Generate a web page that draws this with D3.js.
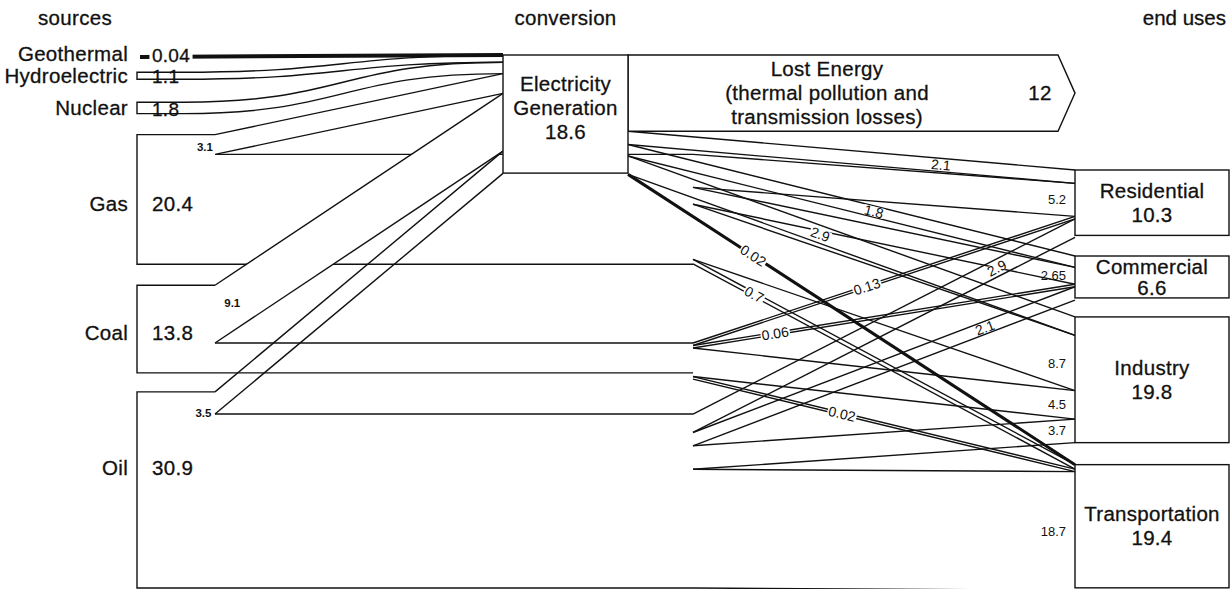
<!DOCTYPE html>
<html>
<head>
<meta charset="utf-8">
<script src="https://cdn.jsdelivr.net/npm/d3@7"></script>
<style>
body { margin: 0; background: #fff; }
svg { display: block; font-family: "Liberation Sans", Arial, Helvetica, sans-serif; }
.edge { fill: none; stroke: #111; stroke-width: 1.4; }
.box { fill: #fff; stroke: #111; stroke-width: 1.4; }
.big { font-size: 20.5px; fill: #111; stroke: #111; stroke-width: 0.3; letter-spacing: 0.3px; }
</style>
</head>
<body>
<svg id="chart" width="1231" height="589"></svg>
<script>
// values
var stages = ["sources", "conversion", "end uses"];
var sources = ["Geothermal", "Hydroelectric", "Nuclear", "Gas", "Coal", "Oil"];
var sourceTotals = [0.04, 1.1, 1.8, 20.4, 13.8, 30.9];
var toElectricity = [0.04, 1.1, 1.8, 3.1, 9.1, 3.5];
var electricityTotal = 18.6;
var lostEnergy = 12;
var endUses = ["Residential", "Commercial", "Industry", "Transportation"];
var endUseTotals = [10.3, 6.6, 19.8, 19.4];
var fromElectricity = [2.1, 1.8, 2.9, 0.02];
var fromGas = [5.2, 2.65, 8.7, 0.7];
var fromCoal = [0.13, 0.06, 4.5, 0.02];
var fromOil = [2.9, 2.1, 3.7, 18.7];

/* layout */
var X = {srcLeft: 137, srcSmall: 183, srcSplit: 215, elecLeft: 503, elecRight: 628,
         hub: 693, useLeft: 1075, useRight: 1229, notch: 1058};
var srcTop = 57, srcGaps = [15, 23, 21, 21, 19];
var useTop = 170, useGaps = [20.6, 19, 22];
var elecTop = 55;
var minW = 2.5;

// value -> band thickness
var k = d3.scaleLinear().domain([0, 1]).range([0, 6.35]);

// label placement for each flow
var heavy = {"Geothermal>Electricity": 4, "Electricity>Transportation": 3};
var labelAt = {
  "Gas>Electricity": {mode: "at", t: -0.035},
  "Coal>Electricity": {mode: "at", t: 0.06},
  "Oil>Electricity": {mode: "at", t: -0.04},
  "Electricity>Residential": {mode: "along", t: 0.70},
  "Electricity>Commercial": {mode: "along", t: 0.55},
  "Electricity>Industry": {mode: "along", t: 0.43},
  "Electricity>Transportation": {mode: "along", t: 0.28},
  "Gas>Residential": {mode: "end"},
  "Gas>Commercial": {mode: "end"},
  "Gas>Industry": {mode: "end"},
  "Gas>Transportation": {mode: "along", t: 0.16},
  "Coal>Residential": {mode: "along", t: 0.455},
  "Coal>Commercial": {mode: "along", t: 0.215},
  "Coal>Industry": {mode: "end"},
  "Coal>Transportation": {mode: "along", t: 0.39},
  "Oil>Residential": {mode: "along", t: 0.795},
  "Oil>Commercial": {mode: "along", t: 0.764},
  "Oil>Industry": {mode: "end"},
  "Oil>Transportation": {mode: "end"}
};

var svg = d3.select("#chart");

/* node positions */
var srcPos = [], acc = srcTop;
sourceTotals.forEach(function(v, i) {
  srcPos.push({y0: acc, y1: acc + k(v)});
  acc += k(v) + (srcGaps[i] || 0);
});
var usePos = [];
acc = useTop;
endUseTotals.forEach(function(v, j) {
  usePos.push({y0: acc, y1: acc + k(v)});
  acc += k(v) + (useGaps[j] || 0);
});
var elecBottom = elecTop + k(electricityTotal);
var lostBottom = elecTop + k(lostEnergy);

function bandW(key, v) {
  if (heavy[key]) return 0;
  return Math.max(k(v), minW);
}

/* flows into electricity */
var flows = [];
var inAcc = elecTop;
sources.forEach(function(name, i) {
  var v = toElectricity[i];
  var key = name + ">Electricity";
  var x0 = i === 0 ? X.srcLeft + 3 : (i < 3 ? X.srcSmall : X.srcSplit);
  var w = heavy[key] ? 0 : k(v);
  var s0 = srcPos[i].y0;
  flows.push({key: key, value: v, x0: x0, x1: X.elecLeft, s0: s0, s1: s0 + w,
              t0: inAcc, t1: inAcc + w, curved: i === 1 || i === 2, fill: i === 3 || i === 4});
  inAcc += k(v);
});

/* flows to end uses */
var rows = [
  {name: "Electricity", values: fromElectricity, x0: X.elecRight, top: lostBottom},
  {name: "Gas", values: fromGas, x0: X.hub, top: srcPos[3].y0 + k(toElectricity[3])},
  {name: "Coal", values: fromCoal, x0: X.hub, top: srcPos[4].y0 + k(toElectricity[4])},
  {name: "Oil", values: fromOil, x0: X.hub, top: srcPos[5].y0 + k(toElectricity[5])}
];
var useAcc = usePos.map(function(p) { return p.y0; });
rows.forEach(function(r) {
  var a = r.top;
  r.values.forEach(function(v, j) {
    var key = r.name + ">" + endUses[j];
    var w = bandW(key, v);
    flows.push({key: key, value: v, x0: r.x0, x1: X.useLeft, s0: a, s1: a + w,
                t0: useAcc[j], t1: useAcc[j] + w});
    a += w;
    useAcc[j] += w;
  });
});

var line = d3.line();
var link = d3.linkHorizontal();

function edgePath(f, top) {
  var a = [f.x0, top ? f.s0 : f.s1], b = [f.x1, top ? f.t0 : f.t1];
  return f.curved ? link({source: a, target: b}) : line([a, b]);
}

/* bulk of gas, coal, oil running to the hub */
var gBulk = svg.append("g");
[3, 4, 5].forEach(function(i) {
  var top = srcPos[i].y0 + k(toElectricity[i]);
  gBulk.append("path").attr("class", "edge").attr("d", line([[X.srcSplit, top], [X.hub, top]]));
  gBulk.append("path").attr("class", "edge").attr("d", line([[X.srcSplit, srcPos[i].y1], [X.hub, srcPos[i].y1]]));
});

/* flow bands */
var gFlows = svg.append("g");
flows.forEach(function(f) {
  var g = gFlows.append("g");
  if (heavy[f.key]) {
    g.append("path").attr("d", line([[f.x0, f.s0], [f.x1, f.t0]]))
      .attr("fill", "none").attr("stroke", "#111").attr("stroke-width", heavy[f.key]);
    return;
  }
  if (f.fill) {
    g.append("path").attr("d", line([[f.x0, f.s0], [f.x1, f.t0], [f.x1, f.t1], [f.x0, f.s1]]) + "Z")
      .attr("fill", "#fff").attr("stroke", "none");
  }
  g.append("path").attr("class", "edge").attr("d", edgePath(f, true));
  g.append("path").attr("class", "edge").attr("d", edgePath(f, false));
});

/* source outlines */
sources.forEach(function(name, i) {
  if (i === 0) return;
  var sx = i < 3 ? X.srcSmall : X.srcSplit;
  var p = d3.path();
  p.moveTo(sx, srcPos[i].y0);
  p.lineTo(X.srcLeft, srcPos[i].y0);
  p.lineTo(X.srcLeft, srcPos[i].y1);
  p.lineTo(sx, srcPos[i].y1);
  svg.append("path").attr("class", "edge").attr("d", p.toString());
});

/* lost energy arrow */
var midLost = (elecTop + lostBottom) / 2;
svg.append("path").attr("class", "box")
  .attr("d", line([[X.elecRight, elecTop], [X.notch, elecTop], [X.useLeft, midLost],
                   [X.notch, lostBottom], [X.elecRight, lostBottom]]) + "Z");

/* electricity generation box */
svg.append("rect").attr("class", "box")
  .attr("x", X.elecLeft).attr("y", elecTop)
  .attr("width", X.elecRight - X.elecLeft).attr("height", elecBottom - elecTop);

/* end use boxes */
endUses.forEach(function(name, j) {
  svg.append("rect").attr("class", "box")
    .attr("x", X.useLeft).attr("y", usePos[j].y0)
    .attr("width", X.useRight - X.useLeft).attr("height", usePos[j].y1 - usePos[j].y0);
});

/* text helpers */
function txt(x, y, s, cls, anchor) {
  var t = svg.append("text").attr("x", x).attr("y", y).attr("dy", "0.35em")
    .attr("text-anchor", anchor || "middle").text(s);
  if (cls) t.attr("class", cls);
  return t;
}
function backed(parent, s, size, cls) {
  var g = parent.append("g");
  var r = g.append("rect").attr("fill", "#fff");
  var t = g.append("text").attr("text-anchor", "middle").attr("dy", "0.35em")
    .attr("font-size", size).attr("fill", "#111").text(s);
  if (cls) t.attr("class", cls);
  var b = t.node().getBBox();
  r.attr("x", b.x - 1).attr("y", b.y + 3).attr("width", b.width + 2).attr("height", b.height - 6);
  return g;
}

/* stage headers */
txt(75, 18, stages[0], "big");
txt((X.elecLeft + X.elecRight) / 2, 18, stages[1], "big");
txt(1226, 18, stages[2], "big", "end").style("letter-spacing", "0px");

/* source names and values */
sources.forEach(function(name, i) {
  var h = srcPos[i].y1 - srcPos[i].y0;
  var small = h < 20;
  var y = small ? srcPos[i].y0 + h / 2 - (i === 0 ? 3 : 0) : srcPos[i].y0 + Math.min(h / 2 + 4, 76);
  txt(128, y, name, "big", "end");
  if (i === 0) {
    backed(svg, String(sourceTotals[i]), 19, "big")
      .attr("transform", "translate(171," + (y + 1) + ")")
      .select("text").style("font-size", "19px");
  } else {
    var t = txt(152, y + (small ? 1 : 0), String(sourceTotals[i]), "big", "start");
    if (small) t.style("font-size", "19px");
  }
});

/* electricity text */
var ecx = (X.elecLeft + X.elecRight) / 2, ecy = (elecTop + elecBottom) / 2 - 6;
txt(ecx, ecy - 24, "Electricity", "big");
txt(ecx, ecy, "Generation", "big");
txt(ecx, ecy + 24, String(electricityTotal), "big");

/* lost energy text */
txt(X.elecRight + 199, midLost - 24, "Lost Energy", "big");
txt(X.elecRight + 199, midLost, "(thermal pollution and", "big");
txt(X.elecRight + 199, midLost + 24, "transmission losses)", "big");
txt(X.notch - 18, midLost, String(lostEnergy), "big");

/* end use text */
endUses.forEach(function(name, j) {
  var cy = (usePos[j].y0 + usePos[j].y1) / 2;
  var sp = Math.min(24, (usePos[j].y1 - usePos[j].y0) / 2);
  var cx = (X.useLeft + X.useRight) / 2;
  txt(cx, cy - sp / 2, name, "big");
  txt(cx, cy + sp / 2, String(endUseTotals[j]), "big");
});

/* flow labels */
var gLab = svg.append("g");
flows.forEach(function(f) {
  var L = labelAt[f.key];
  if (!L) return;
  var cs = (f.s0 + f.s1) / 2, ct = (f.t0 + f.t1) / 2;
  if (L.mode === "end") {
    gLab.append("text").attr("x", X.useLeft - 9).attr("y", ct).attr("dy", "0.35em")
      .attr("text-anchor", "end").attr("font-size", 13).attr("fill", "#111").text(String(f.value));
    return;
  }
  var x = f.x0 + L.t * (f.x1 - f.x0), y = cs + L.t * (ct - cs);
  if (L.mode === "at") {
    gLab.append("text").attr("x", x).attr("y", y).attr("dy", "0.35em")
      .attr("text-anchor", "middle").attr("font-size", 11.5).attr("font-weight", "bold")
      .attr("fill", "#111").text(String(f.value));
    return;
  }
  var ang = Math.atan2(ct - cs, f.x1 - f.x0) * 180 / Math.PI;
  backed(gLab, String(f.value), 14)
    .attr("transform", "translate(" + x + "," + y + ") rotate(" + ang + ")");
});
</script>
</body>
</html>
